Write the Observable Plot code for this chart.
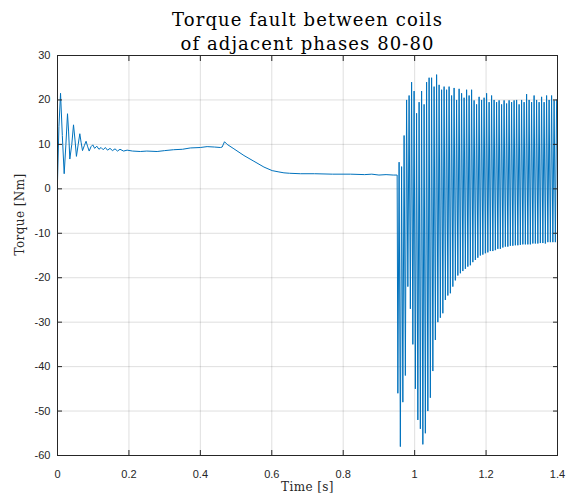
<!DOCTYPE html>
<html><head><meta charset="utf-8">
<script src="https://cdn.jsdelivr.net/npm/d3@7"></script>
<script src="https://cdn.jsdelivr.net/npm/@observablehq/plot@0.6"></script>
<style>body{margin:0;background:#fff}</style>
</head><body><div id="chart"></div>
<script>
const titleLines = ["Torque fault between coils", "of adjacent phases 80-80"];
const xLabel = "Time [s]";
const yLabel = "Torque [Nm]";
const xTicks = [0, 0.2, 0.4, 0.6, 0.8, 1, 1.2, 1.4];
const yTicks = [-60, -50, -40, -30, -20, -10, 0, 10, 20, 30];

// start-up transient and steady part
const preTime = [0, 0.004, 0.0085, 0.0135, 0.0187, 0.0235, 0.028, 0.031, 0.0345, 0.04, 0.0448, 0.049, 0.053, 0.058, 0.0625, 0.066, 0.07, 0.075, 0.08, 0.084, 0.0887, 0.094, 0.0988, 0.104, 0.11, 0.116, 0.122, 0.128, 0.134, 0.14, 0.147, 0.154, 0.161, 0.168, 0.175, 0.185, 0.195, 0.21, 0.232, 0.25, 0.279, 0.30, 0.325, 0.35, 0.372, 0.40, 0.419, 0.44, 0.456, 0.461, 0.4676, 0.475, 0.494, 0.522, 0.55, 0.578, 0.601, 0.62, 0.634, 0.65, 0.68, 0.72, 0.77, 0.82, 0.86, 0.88, 0.90, 0.92, 0.94, 0.951];
const preTorque = [1.7, 14, 21.5, 12, 3.4, 10, 16.9, 13, 6.7, 10, 14.4, 11, 7.3, 10, 12.4, 10.5, 8.6, 9.7, 10.7, 9.6, 8.5, 9.5, 9.9, 9.1, 9.6, 8.9, 9.3, 8.8, 9.3, 8.7, 9.1, 8.6, 9.0, 8.5, 8.9, 8.5, 8.7, 8.5, 8.4, 8.5, 8.4, 8.6, 8.8, 8.9, 9.2, 9.3, 9.5, 9.4, 9.3, 9.4, 10.6, 10.0, 9.0, 7.5, 6.2, 4.9, 4.1, 3.8, 3.6, 3.5, 3.4, 3.4, 3.3, 3.3, 3.2, 3.3, 3.1, 3.2, 3.1, 3.1];

// fault burst: alternating troughs/peaks sampled every burstStep seconds
const burstStart = 0.953;
const burstStep = 0.0035;
const burstTorque = [-46, 6, -58, 5, -48, 12, -42, 20, -22, 21,
  -27, 24, -35, 22, -45, 17, -52, 19.5, -54, 22,
  -57.5, 19, -55, 24, -50, 25, -47, 25, -41, 23,
  -34, 25.7, -30, 23.4, -29, 22.3, -28, 23, -25, 22.3,
  -24, 23, -23.5, 21, -22, 22.7, -20.6, 20, -19.5, 22.5,
  -19, 21.5, -18.5, 20.5, -18, 22.3, -17.5, 21, -17.2, 22.3,
  -16.5, 19.9, -16, 19, -15.5, 20.7, -15, 20, -14.8, 20.5,
  -14.5, 21.5, -14.3, 19.5, -14, 21, -14, 20, -13.8, 19.5,
  -13.5, 19.9, -13.5, 19, -13.2, 19.9, -13, 19.2, -13, 19.9,
  -12.8, 19.5, -12.8, 19.9, -12.7, 20, -12.7, 19, -12.6, 20,
  -12.5, 19.5, -12.5, 21.3, -12.5, 20, -12.5, 19.5, -12.3, 21,
  -12.3, 20, -12.3, 19.5, -12.2, 20.7, -12.2, 19.5, -12.3, 21,
  -12, 20, -12, 21, -12, 19.9, -12, 20];

const data = preTime.map((t, i) => ({t, v: preTorque[i]}))
  .concat(burstTorque.map((v, i) => ({t: burstStart + i * burstStep, v})));

const ink = "#262626";
const serif = "DejaVu Serif, serif";

const chart = Plot.plot({
  width: 573, height: 499,
  marginTop: 55, marginLeft: 57, marginRight: 16, marginBottom: 44,
  style: {fontFamily: "Liberation Sans, Arial, sans-serif", fontSize: "11px", color: ink, background: "#fff"},
  x: {domain: [0, 1.4]},
  y: {domain: [-60, 30]},
  marks: [
    Plot.gridX(xTicks, {stroke: ink, strokeOpacity: 0.15}),
    Plot.gridY(yTicks, {stroke: ink, strokeOpacity: 0.15}),
    Plot.line(data, {x: "t", y: "v", stroke: "#0072bd", strokeWidth: 1}),
    Plot.axisX(xTicks, {anchor: "bottom", label: null, tickSize: -5, tickPadding: 20, tickFormat: d => String(d)}),
    Plot.axisX(xTicks, {anchor: "top", label: null, tickSize: -5, tickFormat: () => ""}),
    Plot.axisY(yTicks, {anchor: "left", label: null, tickSize: -5, tickPadding: 12, tickFormat: d => String(d)}),
    Plot.axisY(yTicks, {anchor: "right", label: null, tickSize: -5, tickFormat: () => ""}),
    Plot.frame({stroke: ink, strokeWidth: 1}),
    Plot.text([titleLines[0]], {text: d => d, frameAnchor: "top", dy: -30, lineAnchor: "bottom", fontFamily: serif, fontSize: 18, fill: "#000"}),
    Plot.text([titleLines[1]], {text: d => d, frameAnchor: "top", dy: -6, lineAnchor: "bottom", fontFamily: serif, fontSize: 18, fill: "#000"}),
    Plot.text([xLabel], {text: d => d, frameAnchor: "bottom", dy: 32, lineAnchor: "middle", fontFamily: serif, fontSize: 12, fill: ink}),
    Plot.text([yLabel], {text: d => d, frameAnchor: "left", dx: -37, rotate: -90, lineAnchor: "middle", fontFamily: serif, fontSize: 12, fill: ink})
  ]
});
d3.select(chart).selectAll("text")
  .filter(function() { return titleLines.includes(this.textContent); })
  .attr("letter-spacing", 1.1);
d3.select(chart).selectAll("text")
  .filter(function() { return this.textContent === xLabel || this.textContent === yLabel; })
  .attr("letter-spacing", 0.4);
document.getElementById("chart").append(chart);
</script>
</body></html>
